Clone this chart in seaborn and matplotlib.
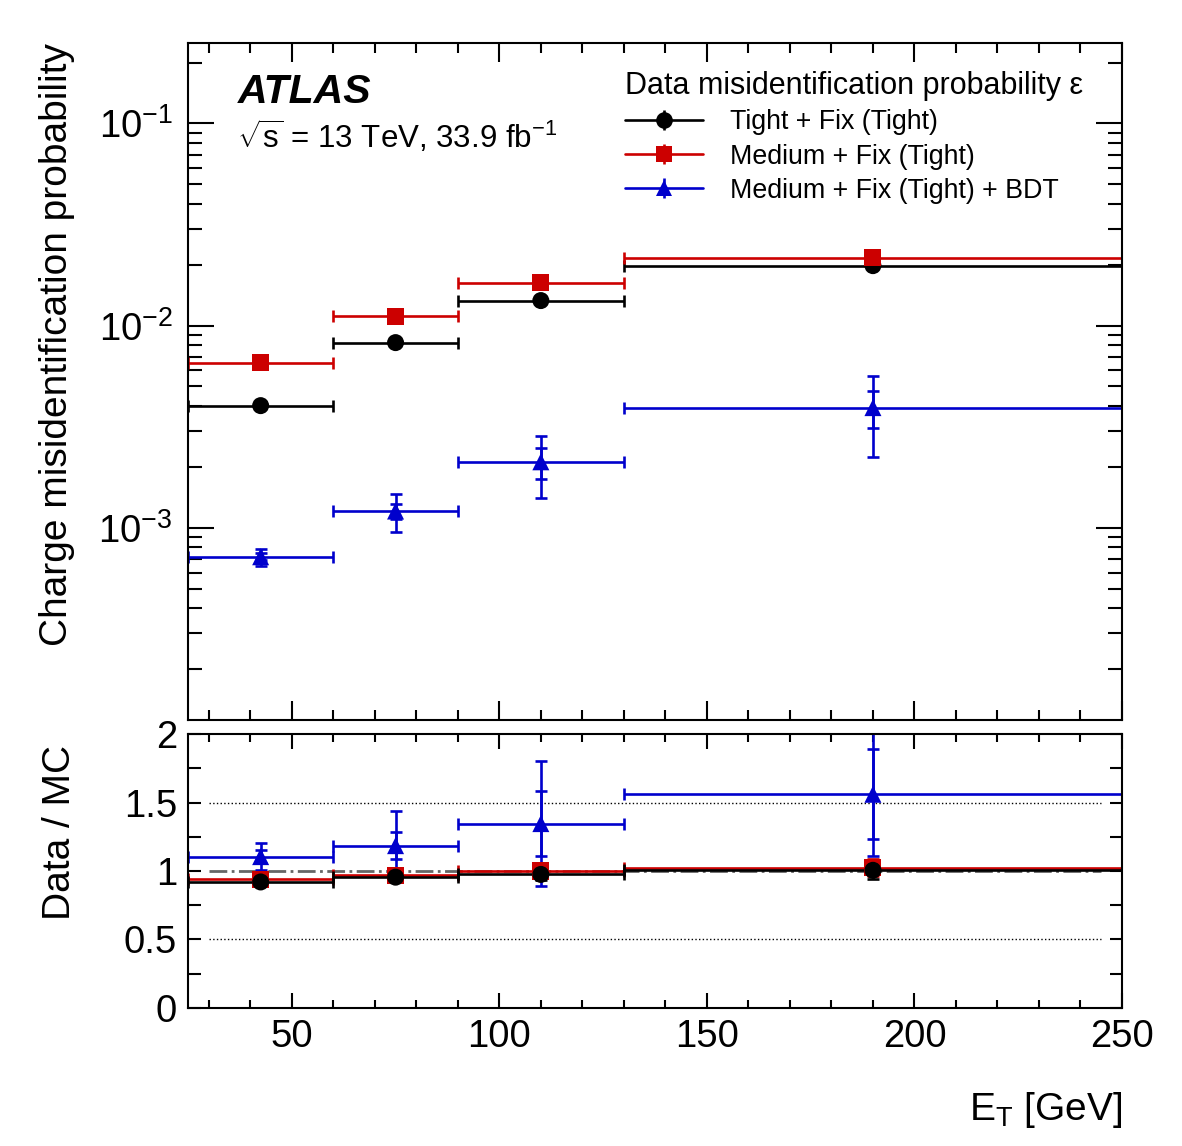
import numpy as np
import pandas as pd
import matplotlib
matplotlib.use("Agg")
import matplotlib.pyplot as plt
import seaborn as sns
from matplotlib.lines import Line2D
from matplotlib.ticker import LogLocator, MultipleLocator, NullFormatter, FuncFormatter

# bins in E_T [GeV]
bin_lo = [25, 60, 90, 130]
bin_hi = [60, 90, 130, 250]

labels = ["Tight + Fix (Tight)", "Medium + Fix (Tight)", "Medium + Fix (Tight) + BDT"]
colors = ["#000000", "#cc0000", "#0000cc"]
markers = ["o", "s", "^"]

# data misidentification probability
eps_tight = [4.02e-3, 8.24e-3, 1.33e-2, 1.98e-2]
eps_medium = [6.56e-3, 1.11e-2, 1.63e-2, 2.17e-2]
eps_bdt = [7.19e-4, 1.21e-3, 2.12e-3, 3.93e-3]
err_tight = [5e-5, 1e-4, 1.5e-4, 3e-4]
err_medium = [6e-5, 1.2e-4, 1.8e-4, 3.5e-4]
err_bdt_tot = [7e-5, 2.6e-4, 7.1e-4, 1.7e-3]
err_bdt_stat = [3e-5, 1.0e-4, 3.7e-4, 8.3e-4]

# data / MC
ratio_tight = [0.92, 0.955, 0.975, 1.005]
ratio_medium = [0.94, 0.97, 1.0, 1.025]
ratio_bdt = [1.105, 1.185, 1.346, 1.56]
rerr_tight = [0.02, 0.02, 0.04, 0.06]
rerr_medium = [0.02, 0.03, 0.04, 0.06]
rerr_bdt_tot = [0.10, 0.255, 0.455, 0.45]
rerr_bdt_stat = [0.05, 0.10, 0.24, 0.33]

ref_levels = [0.5, 1.5]
unity = 1.0
ref_span = (30, 245)

centers = [(a + b) / 2 for a, b in zip(bin_lo, bin_hi)]
xerr = [[c - a for c, a in zip(centers, bin_lo)], [b - c for c, b in zip(centers, bin_hi)]]

rows = []
for lab, eps, rat in zip(labels, [eps_tight, eps_medium, eps_bdt], [ratio_tight, ratio_medium, ratio_bdt]):
    for c, e, r in zip(centers, eps, rat):
        rows.append({"et": c, "eps": e, "ratio": r, "sel": lab})
df = pd.DataFrame(rows)

sns.set_theme(style="ticks")
plt.rcParams['font.family'] = ['Liberation Sans', 'DejaVu Sans']
plt.rcParams['mathtext.fontset'] = 'custom'
plt.rcParams['mathtext.rm'] = 'Liberation Sans'
plt.rcParams['mathtext.it'] = 'Liberation Sans:italic'
plt.rcParams['mathtext.bf'] = 'Liberation Sans:bold'
plt.rcParams['axes.linewidth'] = 1.5
for key in ['text.color', 'axes.labelcolor', 'xtick.color', 'ytick.color', 'axes.edgecolor']:
    plt.rcParams[key] = 'black'

fig = plt.figure(figsize=(11.82, 11.46), dpi=100, facecolor='white')
ax1 = fig.add_axes([0.15905, 0.37173, 0.79019, 0.59075])
ax2 = fig.add_axes([0.15905, 0.12042, 0.79019, 0.23909])

lw = 1.9
cap = 4.0
palette = dict(zip(labels, colors))
mdict = dict(zip(labels, markers))

# --- top panel ---
for eps, err, col in zip([eps_tight, eps_medium], [err_tight, err_medium], colors[:2]):
    ax1.errorbar(centers, eps, xerr=xerr, yerr=err, fmt='none', ecolor=col,
                 elinewidth=lw, capsize=cap, capthick=lw, zorder=2)
ax1.errorbar(centers, eps_bdt, xerr=xerr, yerr=err_bdt_tot, fmt='none', ecolor=colors[2],
             elinewidth=lw, capsize=cap, capthick=lw, zorder=2)
ax1.errorbar(centers, eps_bdt, yerr=err_bdt_stat, fmt='none', ecolor=colors[2],
             elinewidth=lw, capsize=cap, capthick=lw, zorder=2)
sns.scatterplot(data=df, x='et', y='eps', hue='sel', style='sel', palette=palette,
                markers=mdict, s=150, linewidth=0, legend=False, ax=ax1, zorder=3)

ax1.set_yscale('log')
ax1.set_xlim(25, 250)
ax1.set_ylim(1.12e-4, 0.25)
ax1.set_xlabel('')
ax1.set_ylabel('Charge misidentification probability', fontsize=28, loc='top')
ax1.yaxis.set_label_coords(-0.121, 1.0)
ax1.yaxis.set_major_locator(LogLocator(base=10, numticks=10))
ax1.yaxis.set_minor_locator(LogLocator(base=10, subs=np.arange(2, 10), numticks=20))
ax1.yaxis.set_minor_formatter(NullFormatter())
ax1.xaxis.set_major_locator(MultipleLocator(50))
ax1.xaxis.set_minor_locator(MultipleLocator(10))
ax1.tick_params(axis='x', which='major', direction='in', length=14, width=1.5, top=True, bottom=True, labelbottom=False)
ax1.tick_params(axis='x', which='minor', direction='in', length=7, width=1.5, top=True, bottom=True)
ax1.tick_params(axis='y', which='major', direction='in', length=19, width=1.5, left=True, right=True, labelsize=27.5, pad=11)
ax1.tick_params(axis='y', which='minor', direction='in', length=10, width=1.5, left=True, right=True)

ax1.text(0.0535, 0.9114, 'ATLAS', transform=ax1.transAxes, fontsize=29.5,
         fontweight='bold', fontstyle='italic', va='baseline', ha='left')
ax1.text(0.0525, 0.845, r'$\sqrt{\mathrm{s}}$ = 13 TeV, 33.9 fb$^{-1}$', transform=ax1.transAxes,
         fontsize=22.5, va='baseline', ha='left')

# legend: marker + line + small vertical error bar, like the ROOT style
handles = []
for col, m in zip(colors, markers):
    bar = Line2D([], [], color=col, ls='none', marker='|', ms=14, mew=lw)
    pt = Line2D([], [], color=col, lw=lw, marker=m, ms=12, mew=0)
    handles.append((bar, pt))
leg = ax1.legend(handles, labels, title='Data misidentification probability ε',
                 loc='upper left', bbox_to_anchor=(0.468, 0.958), frameon=False,
                 fontsize=19.3, title_fontsize=22, handlelength=2.9, handletextpad=1.0,
                 labelspacing=0.3, borderpad=0, borderaxespad=0, numpoints=1,
                 alignment='left')

# --- ratio panel ---
for lev in ref_levels:
    ax2.hlines(lev, *ref_span, colors='black', linestyles=':', linewidth=1.0, zorder=1)
ax2.hlines(unity, *ref_span, colors='#666666', linestyles='-.', linewidth=2.0, zorder=1)

ax2.errorbar(centers, ratio_bdt, xerr=xerr, yerr=rerr_bdt_tot, fmt='none', ecolor=colors[2],
             elinewidth=lw, capsize=cap, capthick=lw, zorder=2)
ax2.errorbar(centers, ratio_bdt, yerr=rerr_bdt_stat, fmt='none', ecolor=colors[2],
             elinewidth=lw, capsize=cap, capthick=lw, zorder=2)
for rat, err, col in zip([ratio_medium, ratio_tight], [rerr_medium, rerr_tight], [colors[1], colors[0]]):
    ax2.errorbar(centers, rat, xerr=xerr, yerr=err, fmt='none', ecolor=col,
                 elinewidth=lw, capsize=cap, capthick=lw, zorder=2.5)
order_df = pd.concat([df[df.sel == labels[2]], df[df.sel == labels[1]], df[df.sel == labels[0]]])
sns.scatterplot(data=order_df, x='et', y='ratio', hue='sel', style='sel', palette=palette,
                markers=mdict, s=150, linewidth=0, legend=False, ax=ax2, zorder=3)

ax2.set_xlim(25, 250)
ax2.set_ylim(0, 2)
ax2.set_ylabel('Data / MC', fontsize=28, loc='top')
ax2.yaxis.set_label_coords(-0.118, 0.96)
ax2.set_xlabel('E$_{\\mathrm{T}}$ [GeV]', fontsize=28, loc='right', labelpad=25)
ax2.xaxis.set_major_locator(MultipleLocator(50))
ax2.xaxis.set_minor_locator(MultipleLocator(10))
ax2.yaxis.set_major_locator(MultipleLocator(0.5))
ax2.yaxis.set_minor_locator(MultipleLocator(0.25))
ax2.yaxis.set_major_formatter(FuncFormatter(lambda v, p: f'{v:g}'))
ax2.tick_params(axis='x', which='major', direction='in', length=11, width=1.5, top=True, bottom=True, labelsize=27.5, pad=8)
ax2.tick_params(axis='x', which='minor', direction='in', length=5.5, width=1.5, top=True, bottom=True)
ax2.tick_params(axis='y', which='major', direction='in', length=9, width=1.5, left=True, right=True, labelsize=27.5, pad=8)
ax2.tick_params(axis='y', which='minor', direction='in', length=9, width=1.5, left=True, right=True)

fig.savefig('out.png', dpi=100)
